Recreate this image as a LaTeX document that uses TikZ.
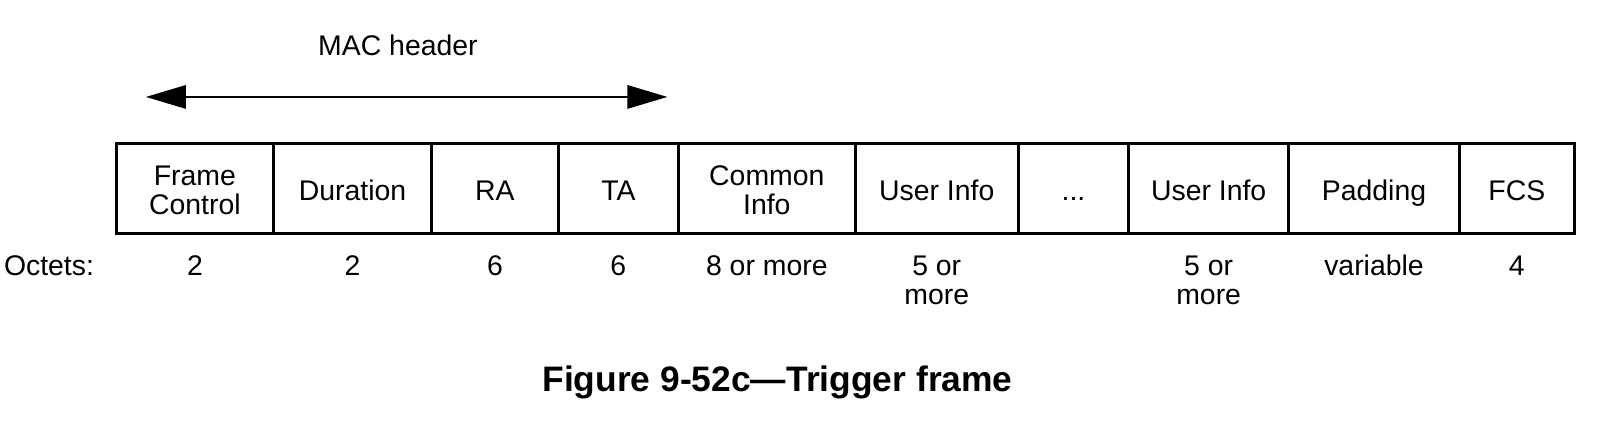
\documentclass[tikz,border=0pt]{standalone}
\usepackage{fontspec}
\setmainfont{Liberation Sans}
\usetikzlibrary{arrows.meta}
\def\sc{1.0204}
\tikzset{
  cell/.style={draw, line width=3.1pt, anchor=north west, minimum height=\sc*88pt, inner sep=0pt, outer sep=0pt},
  celltext/.style={align=center, font=\fontsize{28.4}{28.6}\selectfont, inner sep=0pt, anchor=base},
  octtext/.style={align=center, font=\fontsize{28.4}{28.6}\selectfont, inner sep=0pt, anchor=base},
  hdrarrow/.style={line width=1.5pt, {Triangle[length=40pt,width=23.5pt]}-{Triangle[length=40pt,width=23.5pt]}},
}
\begin{document}
\begin{tikzpicture}[x=1.0204pt,y=-1.0204pt]
\useasboundingbox (0,0) rectangle (1568,413.5);
% header
\node[celltext] (mac) at (390,54) {MAC header};
\coordinate (al) at (143,95);
\coordinate (ar) at (654,95);
\draw[hdrarrow] (al) -- (ar);
% cells
\node[cell, minimum width=\sc*154pt] (c1) at (114,141) {};
\node[cell, minimum width=\sc*155pt] (c2) at (268,141) {};
\node[cell, minimum width=\sc*124pt] (c3) at (423,141) {};
\node[cell, minimum width=\sc*118pt] (c4) at (547,141) {};
\node[cell, minimum width=\sc*173pt] (c5) at (665,141) {};
\node[cell, minimum width=\sc*160pt] (c6) at (838,141) {};
\node[cell, minimum width=\sc*108pt] (c7) at (998,141) {};
\node[cell, minimum width=\sc*157pt] (c8) at (1106,141) {};
\node[cell, minimum width=\sc*167pt] (c9) at (1263,141) {};
\node[cell, minimum width=\sc*113pt] (c10) at (1430,141) {};
\node[celltext] (t1) at (c1.center |- 0,210) {Frame\\Control};
\node[celltext] (t2) at (c2.center |- 0,196) {Duration};
\node[celltext] (t3) at (c3.center |- 0,196) {RA};
\node[celltext] (t4) at (c4.center |- 0,196) {TA};
\node[celltext] (t5) at (c5.center |- 0,210) {Common\\Info};
\node[celltext] (t6) at (c6.center |- 0,196) {User Info};
\node[celltext] (t7) at (c7.center |- 0,196) {...};
\node[celltext] (t8) at (c8.center |- 0,196) {User Info};
\node[celltext] (t9) at (c9.center |- 0,196) {Padding};
\node[celltext] (t10) at (c10.center |- 0,196) {FCS};
% octets
\node[octtext] (oc) at (48,270) {Octets:};
\node[octtext] (o1) at (c1.center |- 0,270) {2};
\node[octtext] (o2) at (c2.center |- 0,270) {2};
\node[octtext] (o3) at (c3.center |- 0,270) {6};
\node[octtext] (o4) at (c4.center |- 0,270) {6};
\node[octtext] (o5) at (c5.center |- 0,270) {8 or more};
\node[octtext] (o6) at (c6.center |- 0,298) {5 or\\more};
\node[octtext] (o8) at (c8.center |- 0,298) {5 or\\more};
\node[octtext] (o9) at (c9.center |- 0,270) {variable};
\node[octtext] (o10) at (c10.center |- 0,270) {4};
% caption
\node[font=\bfseries\fontsize{35.4}{37}\selectfont, inner sep=0pt, anchor=base] (cap) at (762,384) {Figure 9-52c—Trigger frame};
\end{tikzpicture}
\end{document}
